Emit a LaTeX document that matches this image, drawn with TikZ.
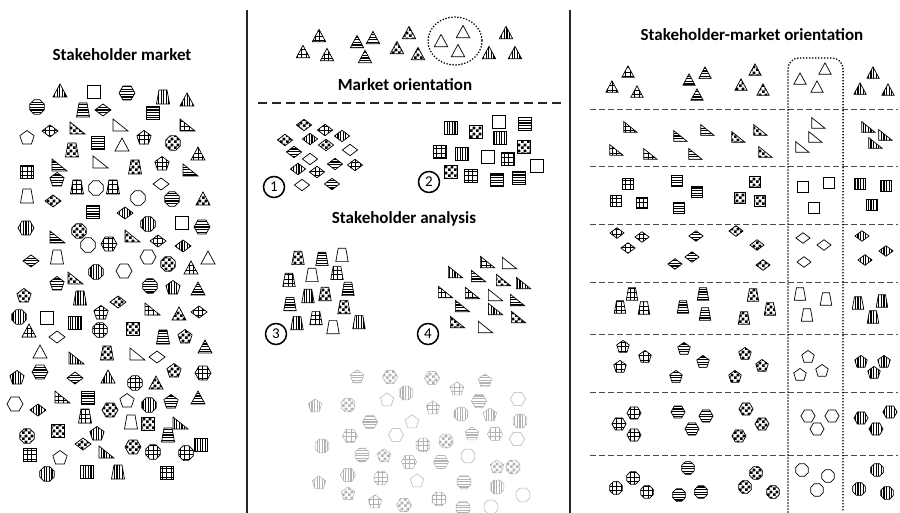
\documentclass[tikz,border=0pt]{standalone}
\usepackage{fontspec}
\setmainfont{Carlito}
\usetikzlibrary{patterns}
\pgfdeclarepatternformonly{myhl}{\pgfpoint{-1pt}{-1pt}}{\pgfpoint{11pt}{1pt}}{\pgfpoint{10pt}{2.6pt}}{%
  \pgfsetlinewidth{1.2pt}\pgfpathmoveto{\pgfpoint{-1pt}{0pt}}\pgfpathlineto{\pgfpoint{11pt}{0pt}}\pgfusepath{stroke}}
\pgfdeclarepatternformonly{myvl}{\pgfpoint{-1pt}{-1pt}}{\pgfpoint{1pt}{11pt}}{\pgfpoint{2.6pt}{10pt}}{%
  \pgfsetlinewidth{1.2pt}\pgfpathmoveto{\pgfpoint{0pt}{-1pt}}\pgfpathlineto{\pgfpoint{0pt}{11pt}}\pgfusepath{stroke}}
\pgfdeclarepatternformonly{mygrid}{\pgfpoint{-1pt}{-1pt}}{\pgfpoint{5.5pt}{5.5pt}}{\pgfpoint{4.5pt}{4.5pt}}{%
  \pgfsetlinewidth{0.6pt}\pgfpathmoveto{\pgfpoint{-1pt}{0pt}}\pgfpathlineto{\pgfpoint{5.5pt}{0pt}}
  \pgfpathmoveto{\pgfpoint{0pt}{-1pt}}\pgfpathlineto{\pgfpoint{0pt}{5.5pt}}\pgfusepath{stroke}}
\pgfdeclarepatternformonly{mychk}{\pgfpointorigin}{\pgfpoint{5.6pt}{5.6pt}}{\pgfpoint{5.6pt}{5.6pt}}{%
  \pgfpathrectangle{\pgfpointorigin}{\pgfpoint{2.8pt}{2.8pt}}
  \pgfpathrectangle{\pgfpoint{2.8pt}{2.8pt}}{\pgfpoint{2.8pt}{2.8pt}}\pgfusepath{fill}}
\def\shcol{black}
\def\shlw{0.7pt}
\def\shs{1}
\tikzset{
  shbase/.style={draw=\shcol, line width=\shlw, line join=miter, preaction={fill=white}},
  pG/.style={shbase, pattern=mygrid, pattern color=\shcol},
  pH/.style={shbase, pattern=myhl, pattern color=\shcol},
  pC/.style={shbase, pattern=mychk, pattern color=\shcol},
  pV/.style={shbase, pattern=myvl, pattern color=\shcol},
  pE/.style={shbase},
  title/.style={font=\fontsize{17}{20}\selectfont\bfseries, inner sep=0pt},
  numc/.style={circle, draw, line width=1.5pt, minimum size=21pt, inner sep=0pt, font=\fontsize{15}{15}\selectfont},
  sepline/.style={draw=black!85, line width=1.6pt},
  hdash/.style={draw=black!70, line width=0.9pt, dash pattern=on 6pt off 3pt},
  dotbox/.style={draw=black, line width=1.8pt, line cap=round, dash pattern=on 0pt off 3pt}
}
\newcommand\shT[1]{\draw[#1] (-7,6) -- (0,-7) -- (7,6) -- cycle;}
\newcommand\shR[1]{\draw[#1] (-7,-6) -- (8,6) -- (-7,6) -- cycle;}
\newcommand\shS[1]{\draw[#1] (-6.5,-6.5) rectangle (6.5,6.5);}
\newcommand\shD[1]{\draw[#1] (-8,0) -- (0,-6) -- (8,0) -- (0,6) -- cycle;}
\newcommand\shZ[1]{\draw[#1] (-4,-7) -- (4,-7) -- (6.5,7) -- (-6.5,7) -- cycle;}
\newcommand\shP[1]{\draw[#1] (-90:7.5) -- (-18:7.5) -- (54:7.5) -- (126:7.5) -- (198:7.5) -- cycle;}
\newcommand\shH[1]{\draw[#1] (0:8) -- (60:8) -- (120:8) -- (180:8) -- (240:8) -- (300:8) -- cycle;}
\newcommand\shO[1]{\draw[#1] (22.5:7.8) -- (67.5:7.8) -- (112.5:7.8) -- (157.5:7.8) -- (202.5:7.8) -- (247.5:7.8) -- (292.5:7.8) -- (337.5:7.8) -- cycle;}
\newcommand\shp[4]{\edef\shpargs{{#1}{#2}{#3}{#4}}\expandafter\shpi\shpargs}
\newcommand\shpi[4]{\begin{scope}[shift={(#1,#2)}, scale=\shs]\csname sh#3\endcsname{p#4}\end{scope}}
\newcommand\shlist[1]{\foreach \a/\b/\c/\d in {#1} {\shp{\a}{\b}{\c}{\d}}}
\begin{document}
\begin{tikzpicture}[x=1pt,y=-1pt]
\useasboundingbox[fill=white] (0,0) rectangle (900,513);
% separators
\coordinate (l1a) at (247,10); \coordinate (l1b) at (247,513);
\coordinate (l2a) at (570,10); \coordinate (l2b) at (570,513);
\draw[sepline] (l1a) -- (l1b);
\draw[sepline] (l2a) -- (l2b);
% titles
\node[title] (t1) at (122,55) {Stakeholder market};
\node[title] (t2) at (405,85) {Market orientation};
\node[title] (t3) at (404,219) {Stakeholder analysis};
\node[title] (t4) at (752,35) {Stakeholder-market orientation};
% center dashed line
\coordinate (cd1) at (258,103); \coordinate (cd2) at (563,103);
\draw[draw=black!85, line width=1.3pt, dash pattern=on 9pt off 5pt] (cd1) -- (cd2);
% right dashed lines
\foreach \yy [count=\i] in {109,166,224,282,334,392,455} {
  \coordinate (ra\i) at (590,\yy); \coordinate (rb\i) at (898,\yy);
  \draw[hdash] (ra\i) -- (rb\i);
}
% dotted box and circle
\draw[dotbox, rounded corners=11pt] (788,512) -- (788,58) -- (843,58) -- (843,512);
\draw[dotbox] (455,41) ellipse [x radius=27, y radius=24];
% number circles
\node[numc] (n1) at (274,187) {1};
\node[numc] (n2) at (429,182) {2};
\node[numc] (n3) at (276,334) {3};
\node[numc] (n4) at (428,334) {4};
% left panel
\shlist{60/91/T/V, 94/92/S/E, 127/93/H/H, 163/97/Z/V, 187/100/T/V, 37/107/O/H, 83/110/Z/H, 103/110/D/H, 153/113/S/H, 50/131/D/G, 77/128/R/C, 120/125/R/E, 187/125/R/G, 27/138/P/E, 98/143/S/H, 122/145/T/E, 144/138/P/G, 173/143/O/C, 72/150/Z/C, 198/154/T/G, 27/172/S/G, 59/165/R/H, 100/162/R/E, 135/167/Z/C, 162/164/P/G, 190/170/R/H, 57/180/P/H, 77/187/Z/G, 96/188/O/E, 113/187/Z/G, 161/184/D/E, 27/196/Z/E, 53/201/D/C, 138/198/O/E, 172/199/O/H, 203/199/T/C, 93/212/S/H, 125/213/D/V, 26/228/H/V, 57/237/R/H, 79/231/O/C, 148/224/O/V, 182/223/S/E, 202/227/H/H, 88/245/O/E, 109/244/H/G, 132/236/R/C, 158/241/D/G, 183/246/D/V}
\shlist{31/261/D/H, 57/257/Z/E, 148/257/H/E, 168/264/O/C, 191/268/T/G, 208/258/T/E, 57/284/P/H, 75/278/R/C, 96/272/O/V, 124/271/H/E, 150/286/O/H, 173/288/P/V, 198/289/T/H, 24/296/P/C, 80/298/Z/V, 118/302/D/C, 19/317/O/V, 47/318/S/E, 75/323/S/V, 101/313/P/G, 152/309/R/G, 179/314/T/C, 199/312/D/G, 29/331/T/G, 100/330/O/G, 133/329/S/C, 57/337/D/E, 163/337/Z/H, 185/337/P/C, 205/347/T/H, 40/352/T/E, 76/358/R/V, 107/353/Z/C, 137/354/R/E, 157/357/D/E, 174/371/P/C, 203/373/H/G, 17/378/P/V, 40/372/H/H, 75/378/D/H, 108/377/T/V, 135/383/O/G, 156/383/T/C}
\shlist{62/397/R/G, 88/398/S/H, 127/401/P/E, 149/405/O/V, 171/402/P/H, 198/398/T/H, 15/404/H/E, 38/410/D/V, 110/410/H/C, 85/416/Z/G, 131/422/Z/E, 148/424/S/C, 180/423/R/V, 27/436/O/C, 58/431/S/C, 97/434/P/V, 168/435/Z/H, 83/444/D/C, 133/447/H/C, 153/452/O/G, 186/453/O/G, 201/445/S/V, 30/455/S/G, 60/458/P/E, 106/452/R/V, 47/474/O/V, 87/472/S/V, 118/472/Z/V, 167/473/S/G}
% center top triangles
\def\shs{0.95}
\shlist{319/36/T/G, 303/52/T/G, 327/55/T/G, 373/38/T/H, 357/42/T/H, 365/57/T/H, 409/33/T/C, 397/48/T/C, 418/54/T/C, 441/41/T/E, 463/32/T/E, 458/51/T/E, 506/33/T/V, 489/53/T/V, 515/53/T/V}
% group 1 diamonds
\shlist{304/125/D/C, 325/130/D/G, 285/140/D/C, 310/139/D/V, 342/136/D/V, 326/145/D/C, 350/150/D/E, 294/152/D/H, 310/159/D/E, 335/164/D/H, 355/165/D/G, 298/169/D/V, 317/172/D/G, 302/185/D/E, 332/184/D/H}
% group 2 squares
\shlist{451/128/S/V, 476/132/S/C, 499/122/S/E, 525/124/S/H, 500/138/S/V, 524/147/S/C, 440/152/S/G, 462/154/S/V, 488/157/S/E, 508/159/S/G, 537/166/S/E, 451/172/S/C, 471/176/S/G, 497/180/S/H, 519/178/S/H}
% group 3 trapezoids
\shlist{298/258/Z/C, 322/259/Z/H, 342/255/Z/E, 289/280/Z/G, 312/275/Z/E, 337/273/Z/G, 308/296/Z/V, 325/294/Z/C, 348/289/Z/H, 290/304/Z/H, 344/307/Z/C, 297/323/Z/V, 316/318/Z/G, 333/327/Z/E, 359/322/Z/V}
% group 4 right triangles
\shlist{487/262/R/G, 509/263/R/E, 455/272/R/V, 478/276/R/H, 503/280/R/C, 523/283/R/V, 445/292/R/G, 472/293/R/G, 495/295/R/E, 517/300/R/H, 462/306/R/H, 495/309/R/V, 518/317/R/C, 457/322/R/C, 485/327/R/E}
% gray group
\begin{scope}
\def\shcol{black!30}\def\shlw{0.5pt}\def\shs{0.95}
\shlist{357/377/P/H, 390/377/H/C, 432/378/H/C, 457/389/P/G, 485/381/P/H, 406/393/O/V, 387/400/P/E, 518/399/H/E, 315/406/P/V, 348/405/O/C, 433/408/P/G, 479/401/H/H, 461/414/O/V, 490/415/P/V, 520/421/O/V, 370/422/H/H, 412/422/P/E, 350/436/H/G, 396/435/H/E, 446/441/O/C, 472/434/P/H, 495/434/H/G, 517/439/H/E, 322/446/O/V, 423/445/O/G, 362/455/O/H, 384/456/P/C, 409/462/H/G, 441/462/H/H, 468/456/O/E, 497/467/P/C, 513/467/O/C, 348/475/H/V, 381/478/O/G, 417/481/P/E, 464/482/O/H, 497/487/O/V, 523/495/O/E, 319/483/P/V, 348/494/P/C, 375/502/P/G, 404/505/H/C, 439/499/O/G, 463/508/O/H, 491/507/O/E}
\end{scope}
% right panel
\def\shs{0.88}
\shlist{628/72/T/G, 612/87/T/G, 637/92/T/G, 705/73/T/H, 689/80/T/H, 697/95/T/H, 755/70/T/C, 741/85/T/C, 763/90/T/C, 800/79/T/E, 825/69/T/E, 817/87/T/E, 873/73/T/V, 860/89/T/V, 888/90/T/V}
\shlist{630/127/R/G, 616/150/R/G, 650/154/R/G, 680/136/R/H, 707/130/R/H, 695/154/R/H, 738/137/R/C, 760/130/R/C, 765/152/R/C, 818/123/R/E, 815/137/R/E, 802/147/R/E, 868/127/R/V, 885/135/R/V, 875/143/R/V}
\shlist{628/184/S/G, 616/201/S/G, 642/203/S/G, 677/181/S/H, 697/192/S/H, 679/208/S/H, 755/182/S/C, 740/198/S/C, 760/201/S/C, 803/187/S/E, 829/183/S/E, 814/208/S/E, 860/184/S/V, 886/186/S/V, 872/205/S/V}
\shlist{617/233/D/G, 642/237/D/G, 628/248/D/G, 696/236/D/H, 692/257/D/H, 675/264/D/H, 736/231/D/C, 757/245/D/C, 763/265/D/C, 803/238/D/E, 824/245/D/E, 804/262/D/E, 862/236/D/V, 886/251/D/V, 865/260/D/V}
\shlist{632/294/Z/G, 620/307/Z/G, 644/308/Z/G, 703/294/Z/H, 683/307/Z/H, 705/314/Z/H, 753/295/Z/C, 770/309/Z/C, 744/318/Z/C, 800/294/Z/E, 826/299/Z/E, 807/315/Z/E, 858/303/Z/V, 882/301/Z/V, 873/317/Z/V}
\shlist{623/347/P/G, 645/357/P/G, 620/367/P/G, 684/349/P/H, 703/362/P/H, 676/377/P/H, 745/354/P/C, 762/366/P/C, 735/377/P/C, 808/357/P/E, 822/371/P/E, 800/375/P/E, 861/362/P/V, 884/362/P/V, 874/373/P/V}
\shlist{634/413/H/G, 619/424/H/G, 634/435/H/G, 678/412/H/H, 706/416/H/H, 692/429/H/H, 746/409/H/C, 762/424/H/C, 739/436/H/C, 808/416/H/E, 832/416/H/E, 817/429/H/E, 861/418/H/V, 890/412/H/V, 876/429/H/V}
\shlist{633/478/O/G, 616/488/O/G, 647/492/O/G, 688/468/O/H, 679/495/O/H, 701/492/O/H, 756/473/O/C, 745/487/O/C, 773/492/O/C, 802/470/O/E, 828/476/O/E, 817/490/O/E, 877/470/O/V, 859/489/O/V, 887/493/O/V}
\end{tikzpicture}
\end{document}
